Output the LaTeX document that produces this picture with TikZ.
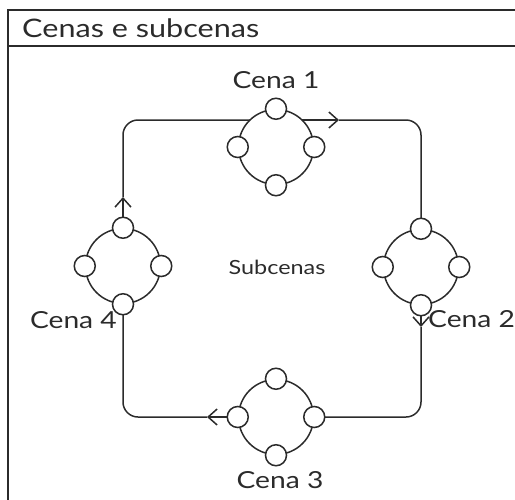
\documentclass[tikz,border=0pt]{standalone}
\usepackage{fontspec}
\setmainfont{Lato}[FakeStretch=1.2]
\usetikzlibrary{arrows.meta,backgrounds}
\definecolor{ink}{HTML}{2B2B2B}
\tikzset{
  frame/.style={draw=ink,line width=1.6pt},
  scene/.style={circle,draw=ink,line width=1.5pt,fill=white,minimum size=75pt,inner sep=0pt},
  sub/.style={circle,draw=ink,line width=1.5pt,fill=white,minimum size=21pt,inner sep=0pt},
  flow/.style={draw=ink,line width=1.5pt,rounded corners=15pt},
  flowtip/.style={draw=ink,line width=1.5pt,-{Straight Barb[length=9pt,width=16pt]}},
  caption/.style={text=ink,font=\fontsize{23.5}{28}\selectfont,inner sep=0pt},
  title/.style={text=ink,font=\fontsize{25.5}{30}\selectfont,inner sep=0pt},
  subcap/.style={text=ink,font=\fontsize{19.5}{23}\selectfont,inner sep=0pt},
}
\begin{document}
\begin{tikzpicture}[x=1pt,y=-1pt]
\useasboundingbox (0,0) rectangle (515,499);
\clip (0,0) rectangle (515,499);

% outer frame with header bar
\draw[frame] (8,10) rectangle (540,530);
\draw[frame] (8,46) -- (540,46);
\node[title,anchor=base west] (title) at (22,37) {Cenas e subcenas};

% scenes
\node[scene] (s1) at (276,147) {};
\node[scene] (s2) at (421,267) {};
\node[scene] (s3) at (276,417) {};
\node[scene] (s4) at (123,266) {};

% subscenes around each scene
\foreach \s in {s1,s2,s3,s4} {
  \node[sub] (\s-n) at (\s.north) {};
  \node[sub] (\s-e) at (\s.east) {};
  \node[sub] (\s-s) at (\s.south) {};
  \node[sub] (\s-w) at (\s.west) {};
}

% labels
\node[caption,anchor=base] (c1) at (276,88) {Cena 1};
\node[caption,anchor=base west] (c2) at (428,327) {Cena 2};
\node[caption,anchor=base] (c3) at (280,488) {Cena 3};
\node[caption,anchor=base east] (c4) at (117,328) {Cena 4};
\node[subcap] (subs) at (277,267) {Subcenas};

% the loop joining the scenes
\coordinate (t) at (0,120);
\coordinate (a1) at (339,120);
\coordinate (a2) at (421,327);
\coordinate (a3) at (207,417);
\coordinate (a4) at (123,197);
\begin{scope}[on background layer]
  \draw[flowtip] (s1.center |- t) -- (a1);
  \draw[flow] (a1) -- (s2.center |- t) -- (s2.center);
  \draw[flowtip] (s2.center) -- (a2);
  \draw[flow] (a2) -- (s2.center |- s3.center) -- (s3.center);
  \draw[flowtip] (s3.center) -- (a3);
  \draw[flow] (a3) -- (s4.center |- s3.center) -- (s4.center);
  \draw[flowtip] (s4.center) -- (a4);
  \draw[flow] (a4) -- (s4.center |- t) -- (s1.center |- t);
\end{scope}
\end{tikzpicture}
\end{document}
